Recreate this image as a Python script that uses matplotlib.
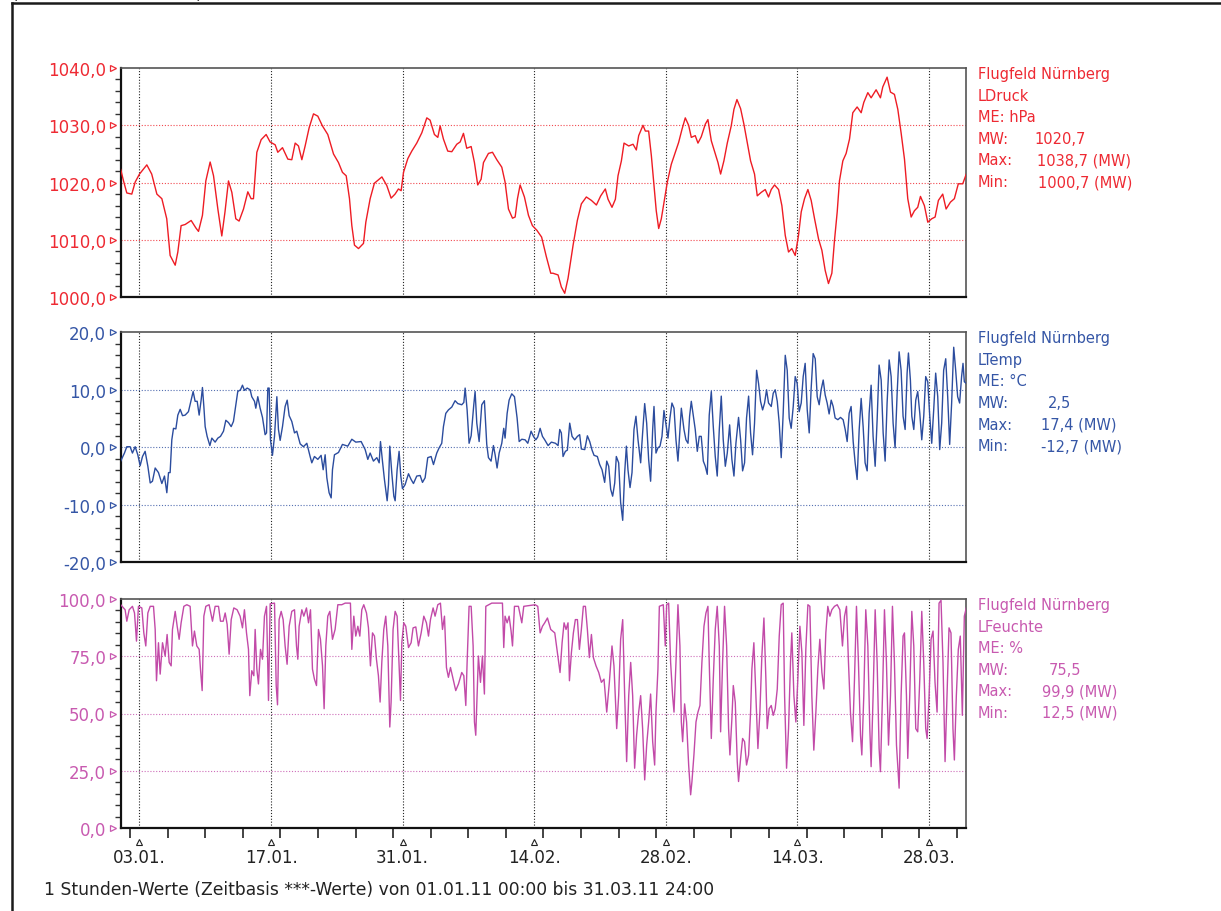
import matplotlib
matplotlib.use("Agg")
import matplotlib.pyplot as plt
import matplotlib.transforms as mtransforms
from matplotlib.lines import Line2D
from matplotlib.ticker import FuncFormatter

# hourly values 01.01.11 - 31.03.11 as (day, value)
pressure = [
    (0.0, 1022.3), (0.3, 1020.3), (0.65, 1018.2), (1.18, 1018.0), (1.54, 1020.1), (2.0, 1021.5),
    (2.78, 1023.1), (3.3, 1021.5), (3.85, 1018.0), (4.38, 1017.2), (4.9, 1013.7), (5.26, 1007.3),
    (5.8, 1005.6), (6.08, 1007.9), (6.43, 1012.5), (6.86, 1012.7), (7.5, 1013.4), (8.0, 1012.1),
    (8.28, 1011.5), (8.7, 1014.3), (9.06, 1020.3), (9.52, 1023.6), (9.88, 1021.2), (10.34, 1015.4),
    (10.76, 1010.7), (11.1, 1014.9), (11.47, 1020.3), (11.83, 1018.3), (12.25, 1013.7), (12.6, 1013.3),
    (13.07, 1015.4), (13.53, 1018.4), (13.88, 1017.2), (14.13, 1017.2), (14.49, 1025.3), (14.95, 1027.5),
    (15.48, 1028.4), (15.9, 1027.1), (16.44, 1026.6), (16.72, 1025.3), (17.22, 1026.1), (17.79, 1024.1),
    (18.21, 1024.0), (18.57, 1026.9), (18.92, 1026.4), (19.28, 1024.0), (19.63, 1026.4), (20.06, 1029.6),
    (20.52, 1032.0), (20.98, 1031.6), (21.47, 1029.9), (22.04, 1028.4), (22.65, 1025.0), (23.18, 1023.5),
    (23.6, 1021.8), (24.0, 1021.2), (24.35, 1017.2), (24.6, 1012.5), (24.88, 1009.1), (25.31, 1008.5),
    (25.84, 1009.4), (26.09, 1013.1), (26.55, 1017.2), (27.0, 1019.9), (27.8, 1021.0), (28.32, 1019.5),
    (28.78, 1017.3), (29.2, 1018.0), (29.56, 1018.9), (29.85, 1018.6), (30.1, 1021.8), (30.56, 1024.2),
    (30.98, 1025.5), (31.51, 1026.9), (32.05, 1028.7), (32.58, 1031.3), (32.93, 1030.9), (33.39, 1028.4),
    (33.75, 1027.9), (34.0, 1029.9), (34.35, 1027.6), (34.81, 1025.5), (35.24, 1025.4), (35.77, 1026.7),
    (36.13, 1027.1), (36.48, 1028.6), (36.83, 1026.0), (37.3, 1026.3), (37.65, 1023.5), (38.0, 1019.6),
    (38.36, 1020.6), (38.61, 1023.5), (39.14, 1025.1), (39.57, 1025.3), (40.03, 1024.0), (40.56, 1022.7),
    (40.91, 1020.1), (41.27, 1015.4), (41.7, 1013.8), (41.98, 1014.0), (42.23, 1017.2), (42.51, 1019.6),
    (42.97, 1017.5), (43.4, 1014.3), (43.82, 1012.5), (44.29, 1011.7), (44.8, 1010.5), (45.3, 1007.1),
    (45.77, 1004.2), (46.0, 1004.2), (46.55, 1003.9), (46.9, 1001.8), (47.26, 1000.7), (47.61, 1003.3),
    (48.15, 1009.1), (48.6, 1013.4), (49.03, 1016.3), (49.56, 1017.5), (50.1, 1016.9), (50.63, 1016.1),
    (51.09, 1017.7), (51.58, 1018.9), (51.87, 1017.1), (52.29, 1015.7), (52.65, 1017.1), (52.93, 1021.2),
    (53.29, 1023.8), (53.57, 1026.9), (54.07, 1026.4), (54.53, 1026.7), (54.88, 1025.7), (55.13, 1028.2),
    (55.59, 1030.0), (55.84, 1029.0), (56.19, 1029.0), (56.48, 1024.7), (56.76, 1019.5), (57.0, 1015.1),
    (57.26, 1012.0), (57.54, 1013.7), (57.89, 1017.2), (58.18, 1020.1), (58.6, 1023.2), (59.03, 1025.3),
    (59.38, 1027.0), (59.74, 1029.3), (60.09, 1031.3), (60.45, 1030.0), (60.73, 1027.9), (61.15, 1028.2),
    (61.44, 1026.9), (61.79, 1028.0), (62.22, 1030.2), (62.5, 1031.0), (62.86, 1027.3), (63.21, 1025.4),
    (63.57, 1023.5), (63.85, 1021.5), (64.2, 1023.8), (64.56, 1026.9), (64.98, 1029.9), (65.27, 1032.8),
    (65.59, 1034.5), (65.98, 1032.9), (66.33, 1030.2), (66.68, 1027.0), (67.04, 1023.8), (67.46, 1021.5),
    (67.75, 1017.7), (68.17, 1018.3), (68.6, 1018.8), (68.95, 1017.5), (69.24, 1018.8), (69.59, 1019.6),
    (70.02, 1018.8), (70.37, 1016.0), (70.73, 1010.8), (71.08, 1007.9), (71.43, 1008.5), (71.79, 1007.3),
    (72.14, 1010.8), (72.43, 1014.9), (72.78, 1017.2), (73.14, 1018.8), (73.49, 1016.9), (73.85, 1013.7),
    (74.27, 1010.2), (74.63, 1008.2), (74.98, 1004.7), (75.33, 1002.4), (75.69, 1004.2), (75.97, 1009.9),
    (76.26, 1014.9), (76.5, 1020.3), (76.86, 1023.8), (77.21, 1025.1), (77.57, 1027.6), (77.92, 1032.2),
    (78.38, 1033.2), (78.81, 1032.2), (79.09, 1034.0), (79.52, 1035.7), (79.87, 1034.8), (80.4, 1036.2),
    (80.86, 1034.8), (81.11, 1036.7), (81.57, 1038.4), (81.93, 1035.8), (82.35, 1035.4), (82.71, 1032.8),
    (83.06, 1028.7), (83.42, 1024.1), (83.77, 1017.2), (84.13, 1014.0), (84.48, 1015.1), (84.83, 1015.7),
    (85.12, 1017.6), (85.54, 1016.0), (85.9, 1013.1), (86.32, 1013.7), (86.68, 1014.0), (87.03, 1016.9),
    (87.49, 1018.0), (87.85, 1015.4), (88.31, 1016.6), (88.73, 1017.2), (89.15, 1019.8), (89.62, 1019.8),
    (90.0, 1021.5),
]

temperature = [
    (0.0, -2.4), (0.4, -1.0), (0.65, 0.1), (1.0, 0.1), (1.25, -1.0), (1.54, 0.1), (1.82, -1.3),
    (2.07, -3.2), (2.32, -1.6), (2.6, -0.7), (2.89, -3.3), (3.14, -6.2), (3.38, -5.9), (3.67, -3.6),
    (4.02, -4.4), (4.38, -6.3), (4.66, -5.0), (4.91, -7.9), (5.09, -4.4), (5.26, -4.4), (5.44, 1.3),
    (5.62, 3.3), (5.87, 3.2), (6.08, 5.6), (6.33, 6.6), (6.58, 5.5), (6.86, 5.6), (7.21, 6.2),
    (7.5, 8.2), (7.71, 9.7), (7.92, 8.0), (8.14, 8.0), (8.35, 5.6), (8.56, 8.2), (8.7, 10.4),
    (8.85, 7.1), (8.99, 3.6), (9.2, 1.9), (9.49, 0.3), (9.7, 1.6), (10.05, 0.9), (10.34, 1.6),
    (10.62, 1.9), (10.94, 2.8), (11.19, 4.7), (11.47, 4.3), (11.76, 3.6), (12.0, 4.5), (12.18, 6.5),
    (12.46, 9.7), (12.75, 10.0), (12.96, 10.8), (13.17, 9.9), (13.46, 10.3), (13.78, 10.0), (13.95, 8.8),
    (14.24, 8.0), (14.38, 6.8), (14.59, 8.8), (14.84, 6.8), (15.09, 5.2), (15.37, 2.2), (15.52, 2.5),
    (15.66, 10.3), (15.8, 10.3), (15.94, 1.3), (16.15, -1.4), (16.37, 1.9), (16.62, 8.8), (16.79, 3.1),
    (16.97, 1.2), (17.22, 3.6), (17.5, 7.1), (17.72, 8.2), (17.93, 5.5), (18.21, 4.5), (18.5, 2.5),
    (18.74, 2.8), (19.1, 0.6), (19.45, 0.1), (19.81, 0.7), (20.16, -1.6), (20.34, -2.7), (20.62, -1.6),
    (20.98, -2.1), (21.33, -1.4), (21.55, -3.9), (21.76, -1.3), (21.94, -5.3), (22.18, -7.9), (22.4, -8.8),
    (22.54, -3.9), (22.75, -1.3), (23.18, -0.9), (23.6, 0.5), (24.17, 0.2), (24.6, 1.4), (25.02, 0.9),
    (25.59, 1.0), (26.02, -0.4), (26.3, -2.1), (26.55, -1.0), (26.9, -2.4), (27.26, -1.8), (27.51, -2.7),
    (27.65, 1.0), (27.86, -2.4), (28.07, -5.6), (28.36, -9.3), (28.5, -6.5), (28.64, 0.2), (28.85, -4.4),
    (29.07, -8.5), (29.21, -9.3), (29.42, -3.9), (29.63, -0.7), (29.81, -5.0), (29.99, -7.2), (30.27, -6.5),
    (30.63, -4.6), (30.91, -5.6), (31.16, -6.3), (31.51, -5.0), (31.87, -4.9), (32.12, -6.1), (32.4, -5.3),
    (32.68, -1.8), (33.04, -1.6), (33.29, -3.0), (33.64, -1.0), (33.89, -0.1), (34.17, 0.7), (34.35, 3.6),
    (34.6, 5.9), (34.88, 6.5), (35.24, 7.0), (35.59, 8.1), (35.88, 7.6), (36.3, 7.4), (36.52, 7.8),
    (36.66, 10.3), (36.87, 6.5), (37.08, 0.7), (37.3, 2.0), (37.58, 7.4), (37.72, 9.7), (37.9, 4.2),
    (38.15, 1.0), (38.43, 7.4), (38.71, 8.1), (38.96, 0.5), (39.14, -1.8), (39.42, -2.4), (39.67, 0.3),
    (39.85, -1.3), (40.06, -3.6), (40.28, -1.0), (40.56, 0.7), (40.77, 3.3), (40.91, 1.6), (41.13, 5.9),
    (41.34, 8.2), (41.62, 9.3), (41.91, 8.8), (42.19, 5.1), (42.41, 1.0), (42.69, 1.4), (43.04, 1.3),
    (43.33, 0.7), (43.68, 2.8), (43.93, 1.9), (44.18, 1.3), (44.39, 1.8), (44.64, 3.3), (44.89, 1.9),
    (45.13, 1.3), (45.49, 0.3), (45.84, 0.9), (46.27, 0.7), (46.55, 0.3), (46.73, 3.1), (46.9, 2.5),
    (47.08, -1.6), (47.33, -0.7), (47.54, -0.5), (47.79, 4.2), (48.04, 1.9), (48.32, 1.3), (48.61, 1.9),
    (48.85, 2.2), (49.03, -0.3), (49.39, -0.4), (49.67, 2.0), (49.92, 1.0), (50.17, -0.5), (50.38, -1.4),
    (50.73, -1.6), (50.98, -3.0), (51.23, -3.9), (51.51, -6.1), (51.73, -2.4), (51.94, -3.3), (52.15, -7.3),
    (52.36, -8.5), (52.58, -6.2), (52.75, -1.6), (53.0, -2.7), (53.21, -9.6), (53.43, -12.7), (53.64, -4.4),
    (53.82, 0.2), (53.99, -3.9), (54.21, -7.0), (54.42, -4.4), (54.63, 3.1), (54.84, 5.4), (55.06, 1.3),
    (55.34, -2.7), (55.55, 2.5), (55.77, 7.6), (55.98, 4.2), (56.19, -2.1), (56.4, -5.9), (56.62, 3.1),
    (56.76, 7.1), (56.97, -1.0), (57.18, -0.1), (57.4, 0.2), (57.61, 1.9), (57.82, 6.4), (58.04, 3.9),
    (58.25, 1.6), (58.46, 5.1), (58.67, 7.7), (58.89, 6.8), (59.1, 1.3), (59.31, -2.4), (59.52, 3.1),
    (59.67, 6.8), (59.95, 3.1), (60.16, 1.3), (60.38, 0.7), (60.55, 5.4), (60.73, 8.0), (60.94, 5.6),
    (61.15, 3.1), (61.37, -0.7), (61.58, 1.9), (61.79, 1.9), (62.01, -2.4), (62.22, -3.3), (62.43, -4.7),
    (62.64, 5.6), (62.86, 9.7), (63.07, 3.6), (63.28, -1.6), (63.49, -5.0), (63.71, 3.1), (63.92, 8.9),
    (64.13, 1.3), (64.35, -3.3), (64.56, -1.0), (64.81, 3.9), (65.05, -2.1), (65.27, -5.0), (65.48, 0.7),
    (65.76, 5.2), (65.98, 1.3), (66.19, -4.1), (66.4, -2.7), (66.61, 5.1), (66.83, 8.9), (67.04, 2.5),
    (67.25, -1.3), (67.46, 4.2), (67.68, 13.4), (67.89, 11.1), (68.1, 8.0), (68.32, 6.5), (68.53, 7.7),
    (68.74, 10.0), (68.95, 7.7), (69.24, 7.1), (69.45, 9.4), (69.66, 10.0), (69.88, 8.0), (70.09, 4.2),
    (70.3, -1.8), (70.51, 5.9), (70.73, 16.0), (70.94, 13.4), (71.15, 5.1), (71.36, 3.3), (71.58, 7.1),
    (71.79, 12.3), (72.0, 11.1), (72.21, 6.2), (72.43, 7.7), (72.64, 12.3), (72.85, 14.6), (73.07, 6.5),
    (73.28, 2.5), (73.49, 10.3), (73.7, 16.3), (73.92, 15.4), (74.13, 8.8), (74.34, 7.4), (74.55, 10.0),
    (74.77, 11.7), (74.98, 9.1), (75.19, 7.7), (75.4, 5.8), (75.62, 8.2), (75.83, 7.1), (76.04, 5.1),
    (76.33, 4.8), (76.61, 5.2), (76.89, 4.8), (77.11, 3.1), (77.32, 1.0), (77.53, 5.9), (77.74, 7.1),
    (77.96, 1.0), (78.17, -2.7), (78.38, -5.6), (78.6, 3.1), (78.81, 8.5), (79.02, 3.6), (79.23, -2.7),
    (79.45, -4.1), (79.66, 5.9), (79.87, 10.8), (80.08, 1.9), (80.3, -3.3), (80.51, 4.8), (80.72, 14.3),
    (80.94, 11.7), (81.15, 2.5), (81.36, -2.4), (81.57, 7.7), (81.79, 15.2), (82.0, 12.3), (82.21, 4.2),
    (82.42, -0.1), (82.64, 9.4), (82.85, 16.6), (83.06, 13.4), (83.27, 5.4), (83.49, 3.1), (83.7, 12.9),
    (83.84, 16.4), (84.05, 11.7), (84.2, 5.4), (84.41, 3.1), (84.62, 8.2), (84.83, 9.7), (85.05, 5.9),
    (85.26, 1.3), (85.47, 5.4), (85.68, 12.3), (85.9, 11.4), (86.11, 5.4), (86.32, 0.7), (86.53, 6.5),
    (86.74, 12.9), (86.96, 8.8), (87.17, -0.4), (87.38, 4.2), (87.59, 13.4), (87.81, 15.4), (88.02, 8.8),
    (88.23, 0.5), (88.44, 7.7), (88.66, 17.4), (88.87, 13.4), (89.08, 8.8), (89.29, 7.7), (89.5, 12.3),
    (89.65, 14.6), (89.79, 11.4), (90.0, 11.1),
]

humidity = [
    (0.0, 97.5), (0.47, 95.3), (0.65, 90.3), (0.9, 95.3), (1.25, 96.8), (1.47, 93.9), (1.68, 81.6),
    (1.89, 96.8), (2.25, 96.1), (2.46, 85.2), (2.67, 79.5), (2.89, 93.9), (3.14, 96.8), (3.49, 96.8),
    (3.67, 86.7), (3.81, 64.3), (4.02, 80.9), (4.2, 67.2), (4.45, 80.9), (4.73, 75.1), (4.94, 84.5),
    (5.16, 72.3), (5.37, 70.8), (5.51, 86.7), (5.8, 94.6), (6.01, 88.1), (6.22, 82.4), (6.43, 89.6),
    (6.72, 96.8), (7.04, 97.5), (7.39, 96.8), (7.64, 79.5), (7.85, 86.0), (8.1, 79.5), (8.35, 78.0),
    (8.49, 69.4), (8.67, 60.0), (8.85, 92.5), (9.06, 96.8), (9.41, 97.5), (9.77, 90.3), (10.05, 96.8),
    (10.41, 96.8), (10.62, 90.3), (10.91, 90.3), (11.12, 93.9), (11.33, 88.9), (11.54, 75.9), (11.76, 91.0),
    (12.04, 96.1), (12.39, 95.3), (12.71, 92.5), (12.96, 87.4), (13.17, 95.3), (13.39, 85.2), (13.6, 78.0),
    (13.74, 57.8), (13.95, 68.7), (14.17, 66.5), (14.31, 86.7), (14.49, 69.4), (14.66, 62.9), (14.88, 78.0),
    (15.09, 73.7), (15.3, 92.5), (15.52, 96.8), (15.73, 55.7), (15.91, 97.9), (16.37, 98.2), (16.55, 62.2),
    (16.69, 53.8), (16.86, 91.0), (17.08, 94.6), (17.29, 91.0), (17.5, 79.5), (17.71, 71.5), (17.93, 88.1),
    (18.21, 94.6), (18.5, 95.3), (18.71, 79.5), (18.85, 73.7), (18.99, 88.1), (19.28, 95.3), (19.49, 92.5),
    (19.77, 96.1), (19.99, 89.6), (20.2, 95.3), (20.41, 69.4), (20.62, 65.0), (20.84, 62.2), (21.05, 86.7),
    (21.26, 82.4), (21.48, 70.8), (21.65, 52.1), (21.83, 79.5), (22.04, 92.5), (22.26, 94.6), (22.54, 82.4),
    (22.82, 86.7), (23.11, 97.5), (23.53, 97.5), (23.89, 98.2), (24.45, 98.2), (24.6, 78.0), (24.81, 92.5),
    (25.02, 83.8), (25.24, 88.1), (25.45, 83.8), (25.66, 95.3), (25.87, 97.5), (26.16, 93.9), (26.37, 87.4),
    (26.58, 70.8), (26.8, 85.2), (27.01, 83.8), (27.22, 73.7), (27.43, 66.5), (27.61, 55.0), (27.79, 72.3),
    (28.0, 86.7), (28.21, 92.5), (28.43, 79.5), (28.64, 44.1), (28.78, 55.0), (28.99, 86.7), (29.21, 94.6),
    (29.42, 92.5), (29.56, 78.0), (29.78, 55.7), (29.92, 80.9), (30.13, 89.6), (30.34, 88.1), (30.63, 78.8),
    (30.91, 80.9), (31.12, 87.4), (31.41, 87.8), (31.69, 79.5), (31.98, 85.2), (32.26, 92.5), (32.54, 89.6),
    (32.76, 83.8), (32.97, 91.0), (33.25, 96.1), (33.46, 92.5), (33.75, 97.5), (34.03, 98.2), (34.25, 86.7),
    (34.46, 92.5), (34.67, 70.1), (34.88, 65.8), (35.1, 70.1), (35.38, 65.0), (35.66, 60.0), (35.95, 62.9),
    (36.3, 67.9), (36.52, 66.5), (36.73, 53.5), (36.87, 72.3), (37.08, 96.8), (37.3, 96.8), (37.51, 79.5),
    (37.65, 46.3), (37.79, 40.5), (37.93, 57.8), (38.07, 75.1), (38.29, 63.6), (38.5, 75.1), (38.71, 58.5),
    (38.86, 96.8), (39.49, 98.2), (40.63, 98.2), (40.77, 78.8), (40.91, 92.5), (41.13, 89.6), (41.34, 92.5),
    (41.55, 86.0), (41.7, 79.5), (41.91, 96.8), (42.33, 96.8), (42.69, 89.6), (42.9, 96.8), (43.4, 97.1),
    (44.11, 97.5), (44.39, 96.8), (44.64, 85.2), (44.89, 88.1), (45.13, 89.6), (45.42, 91.7), (45.77, 86.7),
    (46.2, 85.2), (46.55, 74.4), (46.76, 67.9), (46.98, 80.9), (47.19, 89.6), (47.4, 86.7), (47.61, 89.6),
    (47.76, 64.3), (47.97, 76.6), (48.18, 85.2), (48.39, 91.0), (48.61, 91.0), (48.82, 78.0), (49.03, 86.7),
    (49.24, 96.8), (49.46, 96.8), (49.67, 86.7), (49.88, 74.4), (50.1, 84.5), (50.31, 74.4), (50.59, 70.8),
    (50.88, 67.9), (51.16, 63.6), (51.44, 65.0), (51.73, 50.6), (52.01, 63.6), (52.29, 79.5), (52.5, 70.8),
    (52.79, 43.4), (53.0, 57.8), (53.21, 82.4), (53.43, 91.0), (53.64, 57.8), (53.85, 29.0), (54.07, 57.8),
    (54.28, 72.3), (54.49, 57.8), (54.7, 26.1), (54.91, 40.5), (55.13, 50.6), (55.34, 57.8), (55.55, 43.4),
    (55.77, 21.0), (55.98, 36.2), (56.19, 46.3), (56.4, 58.5), (56.62, 37.7), (56.83, 27.5), (56.97, 50.6),
    (57.18, 69.4), (57.33, 96.8), (57.75, 97.5), (57.96, 79.5), (58.11, 97.5), (58.32, 98.2), (58.53, 72.3),
    (58.74, 57.8), (58.89, 50.6), (59.1, 72.3), (59.31, 97.5), (59.52, 79.5), (59.67, 46.3), (59.81, 37.7),
    (60.02, 54.2), (60.23, 46.3), (60.45, 27.5), (60.66, 14.5), (60.8, 20.3), (61.01, 31.9), (61.23, 46.3),
    (61.44, 50.6), (61.65, 53.5), (61.86, 72.3), (62.08, 88.1), (62.29, 93.9), (62.5, 96.8), (62.64, 72.3),
    (62.86, 39.1), (63.07, 65.0), (63.28, 86.7), (63.49, 96.8), (63.71, 79.5), (63.85, 42.0), (64.06, 72.3),
    (64.27, 96.8), (64.49, 79.5), (64.7, 43.4), (64.84, 31.9), (65.05, 47.7), (65.2, 62.2), (65.41, 54.9),
    (65.62, 29.0), (65.76, 20.3), (65.98, 30.4), (66.19, 39.1), (66.4, 37.7), (66.61, 27.5), (66.83, 31.9),
    (67.04, 50.6), (67.18, 69.4), (67.39, 80.9), (67.61, 57.8), (67.82, 34.7), (68.03, 50.6), (68.24, 75.1),
    (68.46, 91.7), (68.67, 65.0), (68.81, 43.4), (69.02, 52.1), (69.24, 53.5), (69.45, 49.2), (69.66, 52.1),
    (69.88, 60.7), (70.09, 83.8), (70.3, 97.5), (70.51, 98.2), (70.66, 57.8), (70.87, 26.1), (71.08, 43.4),
    (71.29, 72.3), (71.43, 85.2), (71.65, 57.8), (71.86, 46.3), (72.07, 65.0), (72.29, 88.1), (72.5, 76.6),
    (72.71, 44.8), (72.92, 78.0), (73.14, 97.5), (73.35, 96.8), (73.56, 57.8), (73.77, 34.0), (73.99, 50.6),
    (74.2, 69.4), (74.41, 82.4), (74.63, 67.9), (74.84, 60.7), (75.05, 85.2), (75.26, 96.8), (75.48, 92.5),
    (75.69, 95.3), (75.97, 96.8), (76.26, 97.5), (76.54, 95.3), (76.82, 79.5), (77.04, 92.5), (77.25, 96.8),
    (77.46, 72.3), (77.67, 50.6), (77.89, 37.7), (78.1, 65.0), (78.31, 96.8), (78.52, 72.3), (78.74, 40.5),
    (78.88, 31.9), (79.09, 57.8), (79.3, 95.3), (79.52, 79.5), (79.73, 43.4), (79.87, 26.8), (80.08, 57.8),
    (80.3, 95.3), (80.51, 72.3), (80.72, 34.7), (80.86, 24.6), (81.08, 57.8), (81.29, 95.3), (81.5, 72.3),
    (81.72, 36.2), (81.93, 57.8), (82.14, 96.8), (82.35, 72.3), (82.57, 36.2), (82.85, 17.4), (83.06, 57.8),
    (83.27, 83.8), (83.42, 85.2), (83.63, 57.8), (83.77, 30.4), (83.98, 57.8), (84.2, 94.6), (84.41, 79.5),
    (84.62, 43.4), (84.83, 42.0), (85.05, 65.0), (85.26, 94.6), (85.47, 72.3), (85.68, 43.4), (85.83, 39.1),
    (86.04, 57.8), (86.25, 82.4), (86.46, 86.0), (86.67, 63.6), (86.89, 50.6), (87.1, 98.2), (87.31, 99.4),
    (87.52, 72.3), (87.74, 29.0), (87.95, 57.8), (88.16, 87.4), (88.37, 85.2), (88.58, 43.4), (88.73, 29.7),
    (88.94, 57.8), (89.15, 78.0), (89.36, 83.8), (89.58, 49.2), (89.79, 92.5), (90.0, 96.1),
]

grid_days = [2, 16, 30, 44, 58, 72, 86]
grid_labels = ['03.01.', '17.01.', '31.01.', '14.02.', '28.02.', '14.03.', '28.03.']
minor_days = list(range(1, 90, 4))

station = 'Flugfeld Nürnberg'
names = ['LDruck', 'LTemp', 'LFeuchte']
units = ['hPa', '°C', '%']
mw_txt = ['1020,7', '2,5', '75,5']
max_txt = ['1038,7 (MW)', '17,4 (MW)', '99,9 (MW)']
min_txt = ['1000,7 (MW)', '-12,7 (MW)', '12,5 (MW)']

series = [pressure, temperature, humidity]
ylims = [(1000, 1040), (-20, 20), (0, 100)]
ysteps = [10, 10, 25]
yminor = [2, 2, 5]
line_cols = ['#ee1c24', '#2b4c9e', '#c24aa8']
text_cols = ['#ee2a33', '#3556a6', '#c85ab0']

W, H = 1221, 912
fig = plt.figure(figsize=(W / 100, H / 100), dpi=100)
plt.rcParams['font.family'] = 'DejaVu Sans'


def fx(px):
    return px / W


def fy(py):
    return 1 - py / H


left_px, right_px = 120.7, 966.3
panel_px = [(69, 298.3), (333.3, 563.3), (600, 829)]
val_x = [(1034, 1037, 1038), (1048, 1041, 1041), (1049, 1042, 1042)]

for i in range(3):
    top, bot = panel_px[i]
    ax = fig.add_axes([fx(left_px), fy(bot), fx(right_px - left_px), (bot - top) / H])
    days = [p[0] for p in series[i]]
    vals = [p[1] for p in series[i]]
    ax.plot(days, vals, color=line_cols[i], lw=1.0, zorder=3)

    lo, hi = ylims[i]
    ax.set_xlim(0, 90)
    ax.set_ylim(lo, hi)
    major = [lo + k * ysteps[i] for k in range(int((hi - lo) / ysteps[i]) + 1)]
    minor = [lo + k * yminor[i] for k in range(int((hi - lo) / yminor[i]) + 1)]
    ax.set_yticks(major)
    ax.set_yticks([m for m in minor if m not in major], minor=True)
    ax.yaxis.set_major_formatter(FuncFormatter(lambda v, p: f"{v:.1f}".replace('.', ',')))
    ax.tick_params(axis='y', which='major', length=0, pad=10.5, labelsize=12,
                   labelcolor=text_cols[i])
    ax.tick_params(axis='y', which='minor', length=4.3, width=1.0, color='#333333',
                   direction='out')

    # horizontal dotted grid in series colour, vertical dotted black
    for m in major[1:-1]:
        ax.axhline(m, color=line_cols[i], lw=0.8, ls=(0, (1, 1.6)), alpha=0.8, zorder=1)
    for d in grid_days:
        ax.axvline(d, color='#222222', lw=0.8, ls=(0, (1, 1.6)), zorder=1)

    # triangle markers at major y ticks
    trans = mtransforms.blended_transform_factory(ax.transAxes, ax.transData)
    ax.plot([-0.0091] * len(major), major, transform=trans, ls='none', marker='>',
            ms=5, mfc='white', mec=text_cols[i], mew=0.9, clip_on=False)

    for s in ['left', 'bottom']:
        ax.spines[s].set_linewidth(1.6)
        ax.spines[s].set_color('#111111')
    for s in ['top', 'right']:
        ax.spines[s].set_linewidth(1.2)
        ax.spines[s].set_color('#555555')

    if i < 2:
        ax.tick_params(axis='x', which='both', bottom=False, labelbottom=False)
    else:
        ax.set_xticks(grid_days)
        ax.set_xticklabels(grid_labels)
        ax.set_xticks(minor_days, minor=True)
        ax.tick_params(axis='x', which='major', length=0, pad=14.5, labelsize=12,
                       labelcolor='#222222')
        ax.tick_params(axis='x', which='minor', length=7.2, width=1.1, color='#111111',
                       direction='out')
        transx = mtransforms.blended_transform_factory(ax.transData, ax.transAxes)
        ax.plot(grid_days, [-14 / (bot - top)] * len(grid_days), transform=transx,
                ls='none', marker='^', ms=5, mfc='white', mec='#222222', mew=0.8,
                clip_on=False)

    # info block at the right
    lines = [station, names[i], 'ME: ' + units[i], 'MW:', 'Max:', 'Min:']
    for k, t in enumerate(lines):
        y = top + 5.5 + k * 21.6
        fig.text(fx(978), fy(y), t, color=text_cols[i], fontsize=10.5, va='center', ha='left')
    for k, t in enumerate([mw_txt[i], max_txt[i], min_txt[i]]):
        y = top + 5.5 + (k + 3) * 21.6
        fig.text(fx(val_x[i][k]), fy(y), t, color=text_cols[i], fontsize=10.5,
                 va='center', ha='left')

fig.text(fx(44), fy(890), '1 Stunden-Werte (Zeitbasis ***-Werte) von 01.01.11 00:00 bis 31.03.11 24:00',
         fontsize=12.3, color='#222222', va='center', ha='left')

# outer frame (left and top edge visible) and the cut-off heading above it
fig.add_artist(Line2D([fx(11.5), fx(11.5)], [fy(3.5), 0], color='#1a1a1a', lw=1.8))
fig.add_artist(Line2D([fx(11.5), 1], [fy(3.5), fy(3.5)], color='#1a1a1a', lw=1.8))
fig.text(fx(12), fy(-6), '(', fontsize=12, color='#333333', va='center', ha='left')
fig.text(fx(196), fy(-6), ')', fontsize=12, color='#333333', va='center', ha='left')

fig.savefig('out.png', dpi=100)
